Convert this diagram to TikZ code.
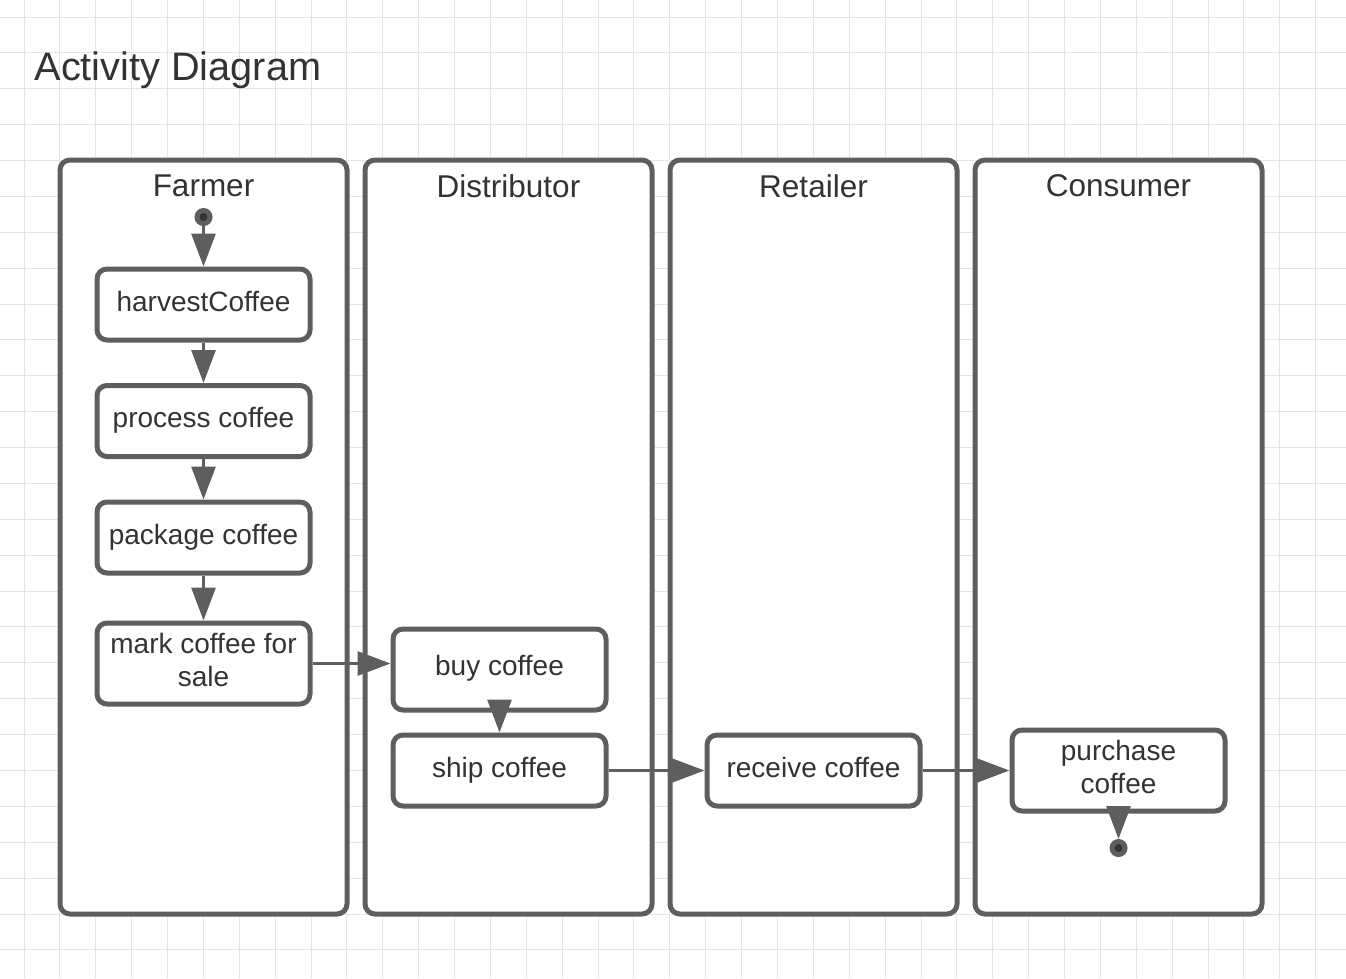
\documentclass[tikz,border=0pt]{standalone}
\usepackage{fontspec}
\setmainfont{Liberation Sans}
\usetikzlibrary{arrows.meta,positioning}
\definecolor{linegray}{RGB}{94,94,94}
\definecolor{textgray}{RGB}{51,51,51}
\definecolor{gridgray}{RGB}{229,229,229}
\tikzset{
	gridline/.style={draw=gridgray, line width=1pt},
	lane/.style={draw=linegray, fill=white, line width=5pt, rounded corners=10pt},
	lanetitle/.style={text=textgray, font=\fontsize{31.5}{36}\selectfont},
	actbox/.style={draw=linegray, fill=white, line width=5pt, rounded corners=10pt,
		minimum width=213pt, minimum height=71pt, inner sep=4pt, align=center,
		text depth=7pt, text=textgray, font=\fontsize{28}{33}\selectfont},
	tallbox/.style={actbox, minimum height=81pt, text depth=8pt},
	flow/.style={draw=linegray, line width=3pt, -{Triangle[length=33pt,width=24pt]}},
	dot/.style={circle, draw=linegray, fill=textgray, line width=5pt, minimum size=13pt, inner sep=0pt}
}

\begin{document}
\begin{tikzpicture}[x=1pt, y=-1pt]
		%%%%% START %%%%%
		\useasboundingbox (0,0) rectangle (1346,978);
		\fill[white] (0,0) rectangle (1346,978);
		
		% grid
		\foreach \i in {0,...,36}
			\draw[gridline] ({24+35.88*\i},0) -- ++(0,978);
		\foreach \j in {0,...,26}
			\draw[gridline] (0,{17+35.88*\j}) -- ++(1346,0);
		
		\node[anchor=west, text=textgray, font=\fontsize{39.7}{46}\selectfont] (title) at (31,70) {Activity Diagram};
		
		% swimlanes
		\draw[lane] (60,160) rectangle (347,914);
		\draw[lane] (365,160) rectangle (652,914);
		\draw[lane] (670,160) rectangle (957,914);
		\draw[lane] (975,160) rectangle (1262,914);
		\node[lanetitle] (farmer) at (203.5,186) {Farmer};
		\node[lanetitle] (distributor) at (508.5,186) {Distributor};
		\node[lanetitle] (retailer) at (813.5,186) {Retailer};
		\node[lanetitle] (consumer) at (1118.5,186) {Consumer};
		
		% activities
		\node[dot] (start) at (203.5,217) {};
		\node[actbox] (harvest) at (203.5,304.5) {harvestCoffee};
		\node[actbox] (process) at (203.5,421) {process coffee};
		\node[actbox] (package) at (203.5,537.5) {package coffee};
		\node[tallbox] (mark) at (203.5,663.5) {mark coffee for\\sale};
		\node[tallbox] (buy) at (499.5,669.5) {buy coffee};
		\node[actbox] (ship) at (499.5,770.5) {ship coffee};
		\node[actbox] (receive) at (813.5,770.5) {receive coffee};
		\node[tallbox] (purchase) at (1118.5,770.5) {purchase\\coffee};
		\node[dot] (stop) at (1118.5,848) {};
		
		% flows
		\draw[flow] (start) -- (harvest);
		\draw[flow] (harvest) -- (process);
		\draw[flow] (process) -- (package);
		\draw[flow] (package) -- (mark);
		\draw[flow] (mark.east) -- (mark.east -| buy.west);
		\draw[flow] (buy) -- (ship);
		\draw[flow] (ship) -- (receive);
		\draw[flow] (receive) -- (purchase);
		\draw[flow] (purchase) -- (stop);
		%%%%% END %%%%%
\end{tikzpicture}
\end{document}
